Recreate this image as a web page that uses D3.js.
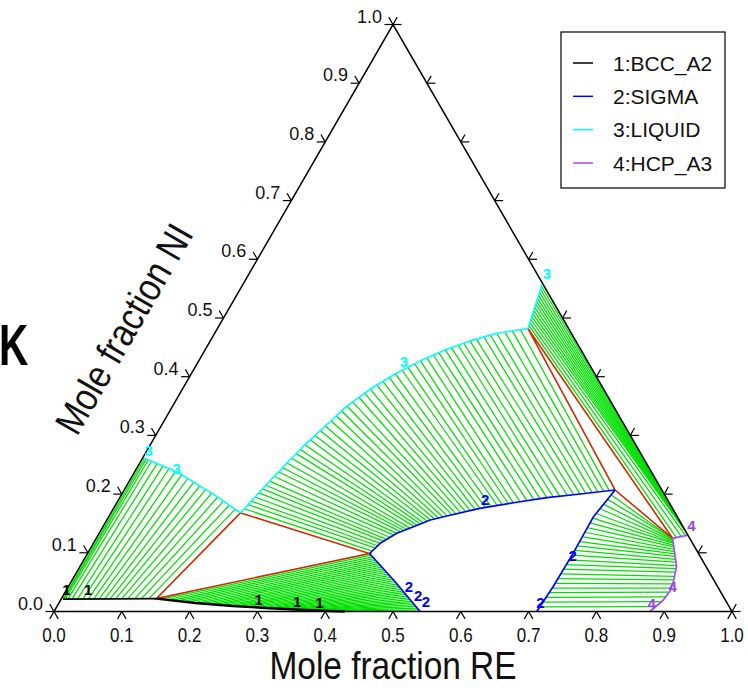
<!DOCTYPE html>
<html>
<head>
<meta charset="utf-8">
<script src="https://cdn.jsdelivr.net/npm/d3@7"></script>
<style>
  html, body { margin: 0; padding: 0; background: #fff; }
  svg { display: block; font-family: "Liberation Sans", Arial, sans-serif; }
</style>
</head>
<body>
<svg id="chart" width="748" height="690"></svg>
<script>
// ---- axis ticks ----
const tickValues = [0, 0.1, 0.2, 0.3, 0.4, 0.5, 0.6, 0.7, 0.8, 0.9, 1.0];
const tickLabels = ["0.0", "0.1", "0.2", "0.3", "0.4", "0.5", "0.6", "0.7", "0.8", "0.9", "1.0"];

// ---- legend ----
const phaseNames = ["1:BCC_A2", "2:SIGMA", "3:LIQUID", "4:HCP_A3"];
const phaseColors = ["#000000", "#0000ff", "#00ffff", "#a64df0"];

// ---- phase boundaries, [x(RE), x(NI)] ----
const bccTop = [[0.003, 0.021], [0.140, 0.022]];
const bccBottom = [[0.140, 0.022], [0.201, 0.0145], [0.259, 0.0094], [0.316, 0.0055], [0.361, 0.0031], [0.407, 0.0009], [0.429, 0]];
const liquidLeft = [[0.003, 0.261], [0.062, 0.238], [0.135, 0.200], [0.191, 0.168]];
const liquidMid = [[0.191, 0.168], [0.199, 0.195], [0.207, 0.222], [0.217, 0.253], [0.228, 0.284], [0.242, 0.316], [0.257, 0.350],
  [0.277, 0.379], [0.301, 0.405], [0.327, 0.427], [0.354, 0.446], [0.383, 0.461], [0.416, 0.474], [0.458, 0.482]];
const liquidRight = [[0.458, 0.482], [0.441, 0.559]];
const sigmaUpper = [[0.416, 0.0988], [0.423, 0.1162], [0.439, 0.1332], [0.458, 0.1445], [0.477, 0.1559], [0.498, 0.1627],
  [0.540, 0.1758], [0.585, 0.1853], [0.630, 0.1939], [0.676, 0.2002], [0.724, 0.207]];
const sigmaLeft = [[0.416, 0.0988], [0.474, 0.0537], [0.540, 0]];
const sigmaRight = [[0.724, 0.207], [0.715, 0.1615], [0.716, 0.0991], [0.715, 0.0422], [0.712, 0]];
const hcpBoundary = [[0.870, 0.130], [0.850, 0.1247], [0.866, 0.0991], [0.880, 0.0763], [0.889, 0.048], [0.891, 0.035], [0.889, 0.0196], [0.879, 0]];

// ---- three-phase triangles ----
const triangleBccLiqSigma = [[0.191, 0.168], [0.140, 0.022], [0.416, 0.0988]];
const triangleLiqSigmaHcp = [[0.458, 0.482], [0.724, 0.207], [0.850, 0.1247]];

// ---- tie lines, [RE1, NI1, RE2, NI2] ----
const tiesLiqBcc = [
  [0.003, 0.261, 0.003, 0.021], [0.006, 0.260, 0.004, 0.021], [0.010, 0.258, 0.006, 0.021], [0.016, 0.256, 0.010, 0.021],
  [0.026, 0.252, 0.016, 0.021], [0.037, 0.248, 0.024, 0.021], [0.048, 0.244, 0.032, 0.021], [0.060, 0.239, 0.040, 0.021],
  [0.072, 0.233, 0.048, 0.021], [0.084, 0.227, 0.056, 0.021], [0.096, 0.221, 0.064, 0.021], [0.108, 0.214, 0.072, 0.021],
  [0.120, 0.208, 0.080, 0.021], [0.132, 0.202, 0.089, 0.022], [0.144, 0.195, 0.098, 0.022], [0.156, 0.188, 0.108, 0.022],
  [0.168, 0.181, 0.118, 0.022], [0.180, 0.174, 0.129, 0.022]
];
const tiesLiqSigma = [
  [0.193, 0.175, 0.418, 0.103], [0.195, 0.182, 0.420, 0.108], [0.197, 0.188, 0.421, 0.112], [0.199, 0.195, 0.423, 0.116],
  [0.201, 0.202, 0.426, 0.120], [0.203, 0.209, 0.429, 0.123], [0.205, 0.215, 0.433, 0.126], [0.207, 0.222, 0.436, 0.130],
  [0.210, 0.230, 0.439, 0.133], [0.212, 0.238, 0.443, 0.136], [0.215, 0.245, 0.447, 0.138], [0.217, 0.253, 0.450, 0.140],
  [0.220, 0.261, 0.454, 0.142], [0.223, 0.269, 0.458, 0.145], [0.225, 0.276, 0.462, 0.147], [0.228, 0.284, 0.466, 0.149],
  [0.232, 0.292, 0.469, 0.151], [0.235, 0.300, 0.473, 0.154], [0.239, 0.308, 0.477, 0.156], [0.242, 0.316, 0.482, 0.158],
  [0.246, 0.325, 0.488, 0.159], [0.250, 0.333, 0.493, 0.161], [0.253, 0.342, 0.498, 0.163], [0.257, 0.350, 0.504, 0.165],
  [0.262, 0.357, 0.510, 0.166], [0.267, 0.365, 0.516, 0.168], [0.272, 0.372, 0.522, 0.170], [0.277, 0.379, 0.528, 0.172],
  [0.283, 0.386, 0.534, 0.174], [0.289, 0.392, 0.540, 0.176], [0.295, 0.399, 0.548, 0.177], [0.301, 0.405, 0.555, 0.179],
  [0.308, 0.411, 0.563, 0.181], [0.314, 0.416, 0.570, 0.182], [0.321, 0.422, 0.578, 0.184], [0.327, 0.427, 0.585, 0.185],
  [0.334, 0.432, 0.594, 0.187], [0.341, 0.437, 0.603, 0.189], [0.347, 0.441, 0.612, 0.191], [0.354, 0.446, 0.621, 0.192],
  [0.361, 0.450, 0.630, 0.194], [0.369, 0.454, 0.639, 0.195], [0.376, 0.457, 0.648, 0.196], [0.383, 0.461, 0.658, 0.198],
  [0.391, 0.464, 0.667, 0.199], [0.400, 0.468, 0.676, 0.200], [0.408, 0.471, 0.684, 0.201], [0.416, 0.474, 0.692, 0.203],
  [0.427, 0.476, 0.700, 0.204], [0.437, 0.478, 0.708, 0.205], [0.448, 0.480, 0.716, 0.206]
];
const tiesSigmaBcc = [
  [0.4196, 0.0959, 0.1482, 0.0210], [0.4233, 0.0930, 0.1565, 0.0200], [0.4269, 0.0901, 0.1647, 0.0190], [0.4306, 0.0872, 0.1729, 0.0180],
  [0.4342, 0.0843, 0.1812, 0.0169], [0.4379, 0.0814, 0.1894, 0.0159], [0.4415, 0.0785, 0.1977, 0.0149], [0.4452, 0.0756, 0.2059, 0.0141],
  [0.4488, 0.0727, 0.2141, 0.0133], [0.4525, 0.0697, 0.2224, 0.0126], [0.4561, 0.0668, 0.2306, 0.0119], [0.4598, 0.0639, 0.2388, 0.0112],
  [0.4634, 0.0610, 0.2471, 0.0104], [0.4671, 0.0581, 0.2553, 0.0097], [0.4707, 0.0552, 0.2635, 0.0091], [0.4744, 0.0523, 0.2718, 0.0085],
  [0.4780, 0.0494, 0.2800, 0.0080], [0.4816, 0.0465, 0.2882, 0.0074], [0.4853, 0.0436, 0.2965, 0.0068], [0.4889, 0.0407, 0.3047, 0.0063],
  [0.4926, 0.0378, 0.3129, 0.0057], [0.4962, 0.0349, 0.3212, 0.0052], [0.4999, 0.0320, 0.3294, 0.0048], [0.5035, 0.0291, 0.3376, 0.0043],
  [0.5072, 0.0262, 0.3459, 0.0039], [0.5108, 0.0232, 0.3541, 0.0035], [0.5145, 0.0203, 0.3624, 0.0030], [0.5181, 0.0174, 0.3706, 0.0026],
  [0.5218, 0.0145, 0.3788, 0.0022], [0.5254, 0.0116, 0.3871, 0.0019], [0.5291, 0.0087, 0.3953, 0.0015], [0.5327, 0.0058, 0.4035, 0.0011],
  [0.5364, 0.0029, 0.4118, 0.0007]
];
const tiesSigmaHcp = [
  [0.722, 0.199, 0.850, 0.124], [0.721, 0.191, 0.851, 0.124], [0.719, 0.183, 0.852, 0.122], [0.718, 0.175, 0.853, 0.120],
  [0.716, 0.167, 0.854, 0.118], [0.715, 0.159, 0.856, 0.116], [0.715, 0.151, 0.857, 0.113], [0.715, 0.143, 0.859, 0.110],
  [0.715, 0.135, 0.862, 0.106], [0.716, 0.127, 0.864, 0.102], [0.716, 0.119, 0.867, 0.098], [0.716, 0.112, 0.869, 0.094],
  [0.716, 0.104, 0.872, 0.089], [0.716, 0.096, 0.875, 0.084], [0.716, 0.088, 0.879, 0.078], [0.716, 0.080, 0.881, 0.073],
  [0.716, 0.072, 0.883, 0.067], [0.715, 0.064, 0.885, 0.060], [0.715, 0.056, 0.887, 0.054], [0.715, 0.048, 0.889, 0.047],
  [0.715, 0.040, 0.890, 0.040], [0.714, 0.032, 0.891, 0.033], [0.714, 0.024, 0.890, 0.025], [0.713, 0.016, 0.888, 0.017],
  [0.713, 0.008, 0.883, 0.0085]
];
const tiesLiqHcp = [
  [0.457, 0.487, 0.855, 0.126], [0.456, 0.492, 0.861, 0.128], [0.455, 0.497, 0.866, 0.130], [0.4535, 0.5025, 0.866, 0.134],
  [0.452, 0.508, 0.862, 0.138], [0.451, 0.513, 0.858, 0.142], [0.450, 0.518, 0.854, 0.146], [0.449, 0.523, 0.850, 0.150],
  [0.448, 0.528, 0.846, 0.154], [0.447, 0.533, 0.842, 0.158], [0.4455, 0.5385, 0.838, 0.162], [0.4445, 0.5435, 0.834, 0.166],
  [0.443, 0.549, 0.830, 0.170], [0.442, 0.554, 0.826, 0.174], [0.441, 0.559, 0.822, 0.178]
];

// ---- phase labels on the boundaries: [phase number, RE, NI] ----
const phaseLabels = [
  [1, 0.000, 0.037], [1, 0.032, 0.037], [1, 0.292, 0.020], [1, 0.350, 0.017], [1, 0.384, 0.015],
  [2, 0.502, 0.043], [2, 0.523, 0.028], [2, 0.540, 0.017], [2, 0.541, 0.190], [2, 0.717, 0.096], [2, 0.710, 0.015],
  [3, 0.002, 0.275], [3, 0.059, 0.244], [3, 0.303, 0.426], [3, 0.439, 0.576],
  [4, 0.867, 0.146], [4, 0.891, 0.043], [4, 0.875, 0.013]
];
const labelColors = { 1: "#000000", 2: "#0000ff", 3: "#00ffff", 4: "#a040e8" };

// ---- scales: RE along the base, NI toward the apex ----
const X = d3.scaleLinear().domain([0, 1]).range([54, 732]);
const Y = d3.scaleLinear().domain([0, 1]).range([611.5, 24.5]);
const px = (a, b) => X(a + b / 2);
const py = (a, b) => Y(b);

const svg = d3.select("#chart");
const line = d3.line().x(d => px(d[0], d[1])).y(d => py(d[0], d[1]));

// tie lines
const tieGroup = svg.append("g").attr("stroke", "#00e000").attr("stroke-width", 1.25).attr("fill", "none");
[tiesLiqBcc, tiesLiqSigma, tiesSigmaBcc, tiesSigmaHcp, tiesLiqHcp].forEach(set => {
  tieGroup.selectAll(null).data(set).enter().append("line")
    .attr("x1", d => px(d[0], d[1])).attr("y1", d => py(d[0], d[1]))
    .attr("x2", d => px(d[2], d[3])).attr("y2", d => py(d[2], d[3]));
});

// three-phase triangles
svg.append("g").selectAll("path").data([triangleBccLiqSigma, triangleLiqSigmaHcp]).enter().append("path")
  .attr("d", d => line(d) + "Z")
  .attr("fill", "none").attr("stroke", "#c83000").attr("stroke-width", 1.6);

// phase boundaries
const boundaries = [
  [bccTop, 0, 1.6], [bccBottom, 0, 2.4],
  [liquidLeft, 2, 1.6], [liquidMid, 2, 1.6], [liquidRight, 2, 1.6],
  [sigmaUpper, 1, 1.7], [sigmaLeft, 1, 1.7], [sigmaRight, 1, 1.7],
  [hcpBoundary, 3, 1.7]
];
svg.append("g").selectAll("path").data(boundaries).enter().append("path")
  .attr("d", d => line(d[0]))
  .attr("fill", "none")
  .attr("stroke", d => phaseColors[d[1]])
  .attr("stroke-width", d => d[2])
  .attr("stroke-linejoin", "round");

// triangle frame
const frame = [[0, 0], [1, 0], [0, 1]];
svg.append("path").attr("d", line(frame) + "Z")
  .attr("fill", "none").attr("stroke", "#000").attr("stroke-width", 1.5);

// ticks
const armLen = 8.5;
const s60 = Math.sin(Math.PI / 3), c60 = 0.5;
const tickG = svg.append("g").attr("stroke", "#000").attr("stroke-width", 1.2);
function arm(x, y, dx, dy) {
  tickG.append("line").attr("x1", x).attr("y1", y).attr("x2", x + dx * armLen).attr("y2", y + dy * armLen);
}
tickValues.forEach(t => {
  const bx = px(t, 0), by = py(t, 0);
  arm(bx, by, -c60, s60); arm(bx, by, c60, s60);
  const lx = px(0, t), ly = py(0, t);
  arm(lx, ly, -1, 0); arm(lx, ly, -c60, -s60);
  const rx = px(1 - t, t), ry = py(1 - t, t);
  arm(rx, ry, 1, 0); arm(rx, ry, c60, -s60);
});

// tick labels: base labels are set in a narrow face
svg.append("g").selectAll("text").data(tickValues).enter().append("text")
  .attr("transform", d => `translate(${px(d, 0)},${py(0, 0) + 23}) scale(0.85,1)`)
  .attr("text-anchor", "middle").attr("dominant-baseline", "central")
  .attr("font-size", 20).attr("fill", "#111")
  .text((d, i) => tickLabels[i]);
svg.append("g").selectAll("text").data(tickValues).enter().append("text")
  .attr("x", d => px(0, d) - 11).attr("y", d => py(0, d) - 8)
  .attr("text-anchor", "end").attr("dominant-baseline", "central")
  .attr("font-size", 18).attr("fill", "#111")
  .text((d, i) => tickLabels[i]);

// axis titles
svg.append("text").attr("transform", `translate(${X(0.5)},666) scale(0.88,1)`)
  .attr("text-anchor", "middle").attr("dominant-baseline", "central")
  .attr("font-size", 38).attr("fill", "#111").text("Mole fraction RE");
svg.append("text")
  .attr("transform", "translate(124,329) rotate(-60) scale(0.86,1)")
  .attr("text-anchor", "middle").attr("dominant-baseline", "central")
  .attr("font-size", 39).attr("fill", "#111").text("Mole fraction NI");

// temperature unit at the left margin
svg.append("text").attr("transform", "translate(-1,365) scale(0.70,1)")
  .attr("font-size", 58).attr("font-weight", "bold").attr("fill", "#000").text("K");

// phase labels
svg.append("g").selectAll("text").data(phaseLabels).enter().append("text")
  .attr("x", d => px(d[1], d[2])).attr("y", d => py(d[1], d[2]))
  .attr("text-anchor", "middle").attr("dominant-baseline", "central")
  .attr("font-size", 15).attr("font-weight", "bold")
  .attr("fill", d => labelColors[d[0]])
  .text(d => d[0]);

// legend
const legend = svg.append("g");
legend.append("rect").attr("x", 561).attr("y", 32).attr("width", 164).attr("height", 156)
  .attr("fill", "#fff").attr("stroke", "#000").attr("stroke-width", 1.2);
const legendRows = d3.scaleLinear().domain([0, 3]).range([63, 163]);
phaseNames.forEach((name, i) => {
  legend.append("line").attr("x1", 573).attr("x2", 593)
    .attr("y1", legendRows(i)).attr("y2", legendRows(i))
    .attr("stroke", phaseColors[i]).attr("stroke-width", 1.5);
  legend.append("text").attr("x", 613).attr("y", legendRows(i))
    .attr("dominant-baseline", "central").attr("font-size", 21).attr("fill", "#111")
    .text(name);
});
</script>
</body>
</html>
